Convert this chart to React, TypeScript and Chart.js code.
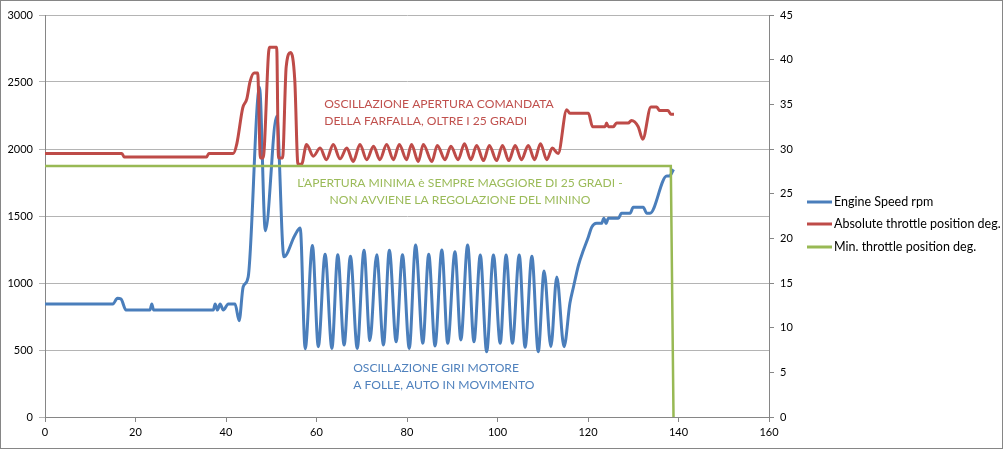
import { useEffect, useRef } from 'react';
import { Chart, registerables } from 'chart.js';

Chart.register(...registerables);

// Engine speed (left axis, rpm)
const rpmTime = [
  0, 15, 16, 16.8, 17.9, 23.2, 23.6, 24, 37.2, 37.6, 38.1, 38.7, 39.4, 40.5, 42, 42.9, 43.8, 44.9,
  47.4, 48.7, 51.2, 52.8, 55.2, 56.4,
  57.5, 59.1, 60.4, 61.9, 63.4, 64.7, 66.1, 67.5, 69.0, 70.5, 71.8, 73.3, 74.8, 76.1, 77.6, 79.0,
  80.5, 81.9, 83.5, 84.8, 86.2, 87.7, 89.0, 90.6, 91.9, 93.4, 94.8, 96.2, 97.6, 99.1, 100.6, 101.9,
  103.3, 104.8, 106.1, 107.6, 109.0, 110.3, 111.8, 113.1, 114.7,
  116.0, 116.8, 117.9, 119.0, 120.1, 120.8, 121.9, 123.0, 123.5, 124.0, 124.5, 126.7, 127.4, 129.3,
  130.0, 132.2, 133.0, 133.7, 137.4, 138.0, 138.9,
];
const rpmValues = [
  843, 843, 886, 880, 798, 798, 843, 798, 798, 843, 798, 843, 798, 843, 843, 719, 972, 1045,
  2460, 1390, 2245, 1195, 1355, 1410,
  510, 1280, 525, 1215, 512, 1210, 537, 1200, 512, 1245, 570, 1210, 537, 1245, 562, 1210,
  512, 1283, 550, 1215, 530, 1246, 550, 1234, 575, 1283, 562, 1209, 487, 1209, 550, 1209,
  550, 1209, 520, 1200, 487, 1090, 525, 1045, 525,
  848, 972, 1134, 1246, 1346, 1415, 1445, 1445, 1483, 1445, 1483, 1483, 1520, 1520,
  1565, 1565, 1520, 1520, 1798, 1798, 1848,
];

// Absolute throttle position (right axis, deg)
const tpsTime = [
  0, 17, 17.5, 35.7, 36.2, 41.6, 42.4, 43.7, 44.6, 45.3, 46.2, 47.0, 47.6, 48.2, 49.6, 51.2, 51.6,
  52.5, 53.3, 54.3, 55.2, 55.9, 56.7,
  57.8, 59.3, 60.8, 62.2, 63.7, 65.2, 66.7, 68.1, 69.6, 71.1, 72.6, 74.0, 75.5, 77.0, 78.3, 79.9,
  81.0, 82.5, 83.6, 85.5, 86.7, 88.4, 89.7, 91.3, 92.7, 94.1, 95.4, 96.9, 98.2, 99.8, 101.1, 102.5,
  103.9, 105.3, 106.8, 108.2, 109.5, 110.9, 112.1, 113.4,
  115.3, 116.0, 120.1, 121.0, 123.8, 124.1, 124.5, 125.6, 126.3, 128.9, 129.6, 131.1, 132.1,
  133.9, 135.2, 135.8, 137.7, 138.3, 139.0,
];
const tpsValues = [
  29.5, 29.5, 29.1, 29.1, 29.5, 29.5, 30.6, 34.6, 35.6, 37.5, 38.5, 38.5, 29.0, 29.0, 41.4, 41.4, 29.0,
  29.0, 39.2, 40.8, 37.7, 28.3, 28.3,
  30.5, 29.2, 30.1, 28.8, 30.5, 28.9, 30.1, 28.6, 30.5, 28.8, 30.3, 28.8, 30.5, 28.8, 30.5, 28.8,
  30.5, 28.6, 30.5, 28.6, 30.4, 28.8, 30.3, 28.8, 30.6, 28.8, 30.4, 28.7, 30.4, 28.7, 30.4, 28.7,
  30.4, 28.8, 30.4, 28.8, 30.6, 28.8, 30.1, 29.5,
  34.4, 34.0, 34.0, 32.5, 32.5, 32.9, 32.5, 32.5, 32.9, 32.9, 33.2, 32.5, 31.1,
  34.7, 34.7, 34.3, 34.3, 33.9, 33.9,
];

// Min. throttle position (right axis, deg)
const minTime = [0, 138.3, 138.9];
const minValues = [28.1, 28.1, 0];

const seriesNames = ['Engine Speed rpm', 'Absolute throttle position deg.', 'Min. throttle position deg.'];
const seriesColors = ['#4a7ebb', '#be4b48', '#98b954'];

const notes = [
  { lines: ['OSCILLAZIONE APERTURA COMANDATA', 'DELLA FARFALLA, OLTRE I 25 GRADI'], x: 61.7, y: 2336, align: 'left', color: '#c0504d' },
  { lines: ['L\u2019APERTURA MINIMA è SEMPRE MAGGIORE DI 25 GRADI -', 'NON AVVIENE LA REGOLAZIONE DEL MININO'], x: 91.7, y: 1746, align: 'center', color: '#9bbb59' },
  { lines: ['OSCILLAZIONE GIRI MOTORE', 'A FOLLE, AUTO IN MOVIMENTO'], x: 68.1, y: 366, align: 'left', color: '#4f81bd' },
];

const FONT = 'Lato, "DejaVu Sans", sans-serif';

const pts = (xs: number[], ys: number[]) => xs.map((x, i) => ({ x, y: ys[i] }));

const overlayPlugin = {
  id: 'overlay',
  afterDraw(chart: any) {
    const { ctx } = chart;
    const xs = chart.scales.x;
    const ys = chart.scales.y;
    ctx.save();
    ctx.font = `12.1px ${FONT}`;
    ctx.textBaseline = 'middle';
    notes.forEach((n) => {
      ctx.fillStyle = n.color;
      ctx.textAlign = n.align;
      const px = xs.getPixelForValue(n.x);
      const py = ys.getPixelForValue(n.y);
      n.lines.forEach((l, i) => ctx.fillText(l, px, py + i * 17));
    });
    // legend
    ctx.font = `12.5px ${FONT}`;
    ctx.textAlign = 'left';
    const lx = chart.chartArea.right + 38;
    const ly = [202, 224, 247];
    seriesNames.forEach((name, i) => {
      ctx.strokeStyle = seriesColors[i];
      ctx.lineWidth = 3;
      ctx.beginPath();
      ctx.moveTo(lx, ly[i]);
      ctx.lineTo(lx + 25, ly[i]);
      ctx.stroke();
      ctx.fillStyle = '#000';
      ctx.fillText(name, lx + 27, ly[i]);
    });
    ctx.restore();
  },
};

export default function App() {
  const canvasRef = useRef<HTMLCanvasElement | null>(null);

  useEffect(() => {
    document.body.style.margin = '0';
    if (!canvasRef.current) return;
    const tickFont = { family: FONT, size: 11 };
    const plain = (v: any) => String(v);
    const chart = new Chart(canvasRef.current, {
      type: 'line',
      data: {
        datasets: [
          {
            label: seriesNames[0],
            data: pts(rpmTime, rpmValues),
            borderColor: seriesColors[0],
            borderWidth: 3,
            pointRadius: 0,
            cubicInterpolationMode: 'monotone',
            yAxisID: 'y',
            order: 3,
          },
          {
            label: seriesNames[1],
            data: pts(tpsTime, tpsValues),
            borderColor: seriesColors[1],
            borderWidth: 3,
            pointRadius: 0,
            cubicInterpolationMode: 'monotone',
            yAxisID: 'y1',
            order: 2,
          },
          {
            label: seriesNames[2],
            data: pts(minTime, minValues),
            borderColor: seriesColors[2],
            borderWidth: 2.5,
            pointRadius: 0,
            tension: 0,
            yAxisID: 'y1',
            order: 1,
          },
        ],
      },
      options: {
        animation: false,
        responsive: false,
        devicePixelRatio: 1,
        layout: { padding: { top: 15, right: 195, bottom: 0, left: 0 } },
        plugins: { legend: { display: false }, tooltip: { enabled: false } },
        scales: {
          x: {
            type: 'linear',
            min: 0,
            max: 160,
            ticks: { stepSize: 20, color: '#000', font: tickFont, padding: 4, maxRotation: 0, callback: plain },
            grid: { drawOnChartArea: false, tickLength: 5, color: '#868686' },
            border: { color: '#868686' },
            afterFit: (s: any) => { s.height = 33; },
          },
          y: {
            position: 'left',
            min: 0,
            max: 3000,
            ticks: { stepSize: 500, color: '#000', font: tickFont, padding: 6, callback: plain },
            grid: { color: '#b4b4b4', tickLength: 6 },
            border: { color: '#868686' },
            afterFit: (s: any) => { s.width = 45; },
          },
          y1: {
            position: 'right',
            min: 0,
            max: 45,
            ticks: { stepSize: 5, color: '#000', font: tickFont, padding: 6, callback: plain },
            grid: { drawOnChartArea: false, tickLength: 5, color: '#868686' },
            border: { color: '#868686' },
            afterFit: (s: any) => { s.width = 40; },
          },
        },
      },
      plugins: [overlayPlugin],
    });
    return () => chart.destroy();
  }, []);

  return (
    <div style={{ position: 'relative', width: 1004, height: 450 }}>
      <canvas ref={canvasRef} width={1004} height={450} />
      <div
        style={{
          position: 'absolute', left: 0, top: 0, width: 1003, height: 449,
          boxSizing: 'border-box', border: '1px solid #868686', pointerEvents: 'none',
        }}
      />
    </div>
  );
}
